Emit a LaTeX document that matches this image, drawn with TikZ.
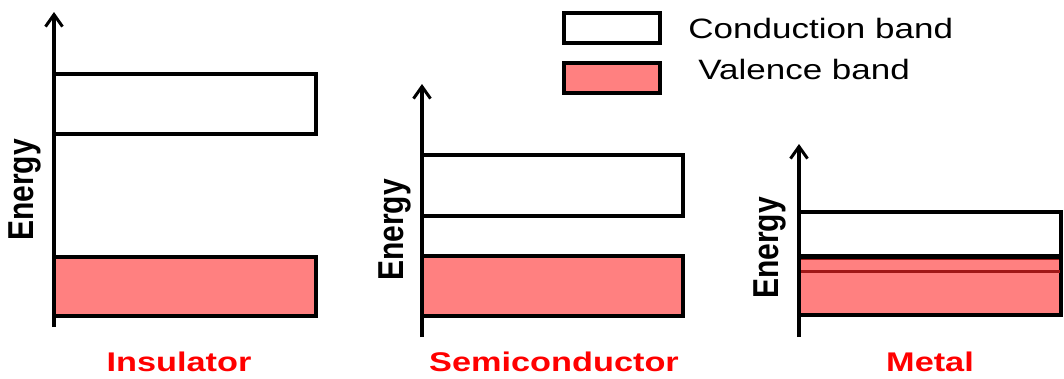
\documentclass[tikz,border=0pt]{standalone}
\usepackage{fontspec}
\setmainfont{Liberation Sans}
\usetikzlibrary{arrows.meta}
\definecolor{vpink}{HTML}{FF8080}
\definecolor{lblred}{HTML}{FF0000}
\definecolor{darkred}{HTML}{A01818}
\begin{document}
\begin{tikzpicture}[x=1pt,y=-1pt,
  axis/.style={line width=3.5pt,-{Straight Barb[length=12pt,width=17pt,line width=3pt]}},
  cband/.style={draw=black,line width=3.5pt,fill=white},
  vband/.style={draw=black,line width=3.5pt,fill=vpink},
  elabel/.style={font=\bfseries\fontsize{30}{32}\selectfont,xscale=1.2,rotate=90},
  mlabel/.style={font=\bfseries\fontsize{27}{30}\selectfont,text=lblred,xscale=1.27},
  legtext/.style={font=\fontsize{28}{30}\selectfont,xscale=1.25,anchor=west}]
\useasboundingbox (0,0) rectangle (1064,378);
% Insulator
\draw[cband] (54,74) rectangle (316,134);
\draw[vband] (54,257) rectangle (316,316);
\draw[axis] (54,327) -- (54,12);
\node[elabel] (e1) at (25,190) {Energy};
\node[mlabel] (l1) at (179,362) {Insulator};
% Semiconductor
\draw[cband] (422,155) rectangle (683,216);
\draw[vband] (422,256) rectangle (683,316);
\draw[axis] (422,337) -- (422,84);
\node[elabel] (e2) at (395,230) {Energy};
\node[mlabel] (l2) at (554,362) {Semiconductor};
% Metal
\draw[cband] (799,212) rectangle (1061,256);
\draw[vband] (799,258) rectangle (1061,315);
\draw[draw=darkred,line width=1pt] (800,259) -- (1059,259);
\draw[draw=darkred,line width=3pt] (800,271) -- (1060,271);
\draw[axis] (799,337) -- (799,144);
\node[elabel] (e3) at (770,248) {Energy};
\node[mlabel] (l3) at (930,362) {Metal};
% Legend
\draw[cband] (564,13) rectangle (660,43);
\draw[vband] (564,63) rectangle (660,93);
\node[legtext] (lc) at (684,28) {Conduction band};
\node[legtext] (lv) at (694,69) {Valence band};
\end{tikzpicture}
\end{document}
